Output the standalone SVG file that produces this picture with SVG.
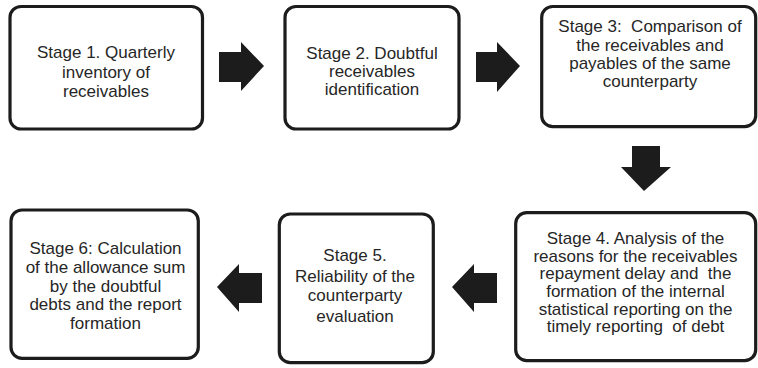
<svg xmlns="http://www.w3.org/2000/svg" width="758" height="368" viewBox="0 0 758 368">
  <style>
    .box { fill: #ffffff; stroke: #1c1c1c; stroke-width: 3.2; }
    .label { font-family: "Liberation Sans", Arial, sans-serif; font-size: 17px; fill: #262626; text-anchor: middle; white-space: pre; }
    .arrow { fill: #1c1c1c; }
  </style>
  <rect width="758" height="368" fill="#ffffff"/>

  <g id="stage1">
    <rect class="box" x="10" y="6.5" width="192.5" height="122.5" rx="11"/>
    <text class="label" x="106" y="58">Stage 1. Quarterly</text>
    <text class="label" x="106" y="77.5">inventory of</text>
    <text class="label" x="106" y="97">receivables</text>
  </g>

  <g id="stage2">
    <rect class="box" x="285" y="6.5" width="174" height="122.5" rx="11"/>
    <text class="label" x="372" y="59">Stage 2. Doubtful</text>
    <text class="label" x="372" y="77">receivables</text>
    <text class="label" x="372" y="95">identification</text>
  </g>

  <g id="stage3">
    <rect class="box" x="541.7" y="6.5" width="214" height="120.2" rx="11"/>
    <text class="label" x="650" y="32" xml:space="preserve">Stage 3:  Comparison of</text>
    <text class="label" x="650" y="50.5">the receivables and</text>
    <text class="label" x="650" y="68.5">payables of the same</text>
    <text class="label" x="650" y="86.5">counterparty</text>
  </g>

  <g id="stage4">
    <rect class="box" x="515.7" y="212.7" width="240" height="148" rx="11"/>
    <text class="label" x="635.5" y="243.5">Stage 4. Analysis of the</text>
    <text class="label" x="635.5" y="261.5">reasons for the receivables</text>
    <text class="label" x="635.5" y="279" xml:space="preserve">repayment delay and  the</text>
    <text class="label" x="635.5" y="297">formation of the internal</text>
    <text class="label" x="635.5" y="314.5">statistical reporting on the</text>
    <text class="label" x="635.5" y="332" xml:space="preserve">timely reporting  of debt</text>
  </g>

  <g id="stage5">
    <rect class="box" x="279.3" y="214" width="154" height="148.7" rx="11"/>
    <text class="label" x="355" y="261">Stage 5.</text>
    <text class="label" x="355" y="281.5">Reliability of the</text>
    <text class="label" x="355" y="301">counterparty</text>
    <text class="label" x="355" y="322">evaluation</text>
  </g>

  <g id="stage6">
    <rect class="box" x="11" y="210" width="187.3" height="148.3" rx="11"/>
    <text class="label" x="105.5" y="254">Stage 6: Calculation</text>
    <text class="label" x="105.5" y="272.5">of the allowance sum</text>
    <text class="label" x="105.5" y="291.5">by the doubtful</text>
    <text class="label" x="105.5" y="310">debts and the report</text>
    <text class="label" x="105.5" y="328.5">formation</text>
  </g>

  <g id="connectors">
    <polygon class="arrow" points="219,52 241,52 241,42 264,66 241,91 241,82 219,82"/>
    <polygon class="arrow" points="476,52 497,52 497,42 520,66 497,92 497,82 476,82"/>
    <polygon class="arrow" points="632,146 660,146 660,167 671,167 644,191 621,167 632,167"/>
    <polygon class="arrow" points="497,273 474,273 474,264 452,287 474,312 474,303 497,303"/>
    <polygon class="arrow" points="262,273 239,273 239,264 217,287 239,312 239,303 262,303"/>
  </g>
</svg>
